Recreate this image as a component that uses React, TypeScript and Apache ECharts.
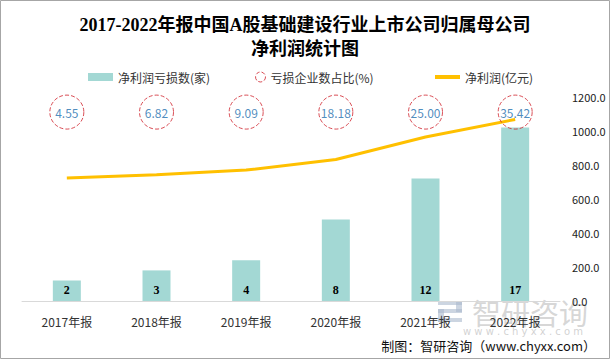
import React, { useEffect, useRef } from "react";
import * as echarts from "echarts";

const categories = ["2017年报", "2018年报", "2019年报", "2020年报", "2021年报", "2022年报"];
const lossCounts = [2, 3, 4, 8, 12, 17];
const lossShare = [4.55, 6.82, 9.09, 18.18, 25.0, 35.42];
const netProfit = [723, 743, 770, 832, 965, 1068];
const rightTicks = { min: 0, max: 1200, interval: 200 };

const CJK = "'Noto Sans CJK SC', 'Noto Sans', sans-serif";
const SERIF = "'Liberation Serif', 'Noto Sans CJK SC', serif";

export default function App() {
  const ref = useRef<HTMLDivElement>(null);
  useEffect(() => {
    if (!ref.current) return;
    const chart = echarts.init(ref.current, undefined, { renderer: "svg" });
    const shareRow = lossShare.map(() => 0.926);
    chart.setOption({
      animation: false,
      backgroundColor: "#ffffff",
      title: {
        text: "2017-2022年报中国A股基础建设行业上市公司归属母公司\n净利润统计图",
        left: "center",
        top: 8,
        textStyle: {
          fontFamily: SERIF,
          fontWeight: "bold",
          fontSize: 18,
          lineHeight: 24,
          color: "#000",
        },
      },
      legend: [
        {
          data: ["净利润亏损数(家)"],
          left: 83,
          top: 66,
          itemWidth: 25,
          itemHeight: 8,
          itemGap: 5,
          icon: "rect",
          textStyle: { fontFamily: CJK, fontSize: 12, color: "#333" },
        },
        {
          data: [
            {
              name: "亏损企业数占比(%)",
              icon: "circle",
              itemStyle: { color: "transparent", borderColor: "#d0202a", borderWidth: 1, borderType: "dashed" },
            },
          ],
          left: 250,
          top: 66,
          itemWidth: 10,
          itemHeight: 10,
          textStyle: { fontFamily: CJK, fontSize: 12, color: "#333" },
        },
        {
          data: [{ name: "净利润(亿元)", icon: "rect" }],
          left: 430,
          top: 66,
          itemWidth: 25,
          itemHeight: 4,
          textStyle: { fontFamily: CJK, fontSize: 12, color: "#333" },
        },
      ],
      grid: { left: 22, right: 50, top: 97, bottom: 58 },
      xAxis: {
        type: "category",
        data: categories,
        axisLine: { lineStyle: { color: "#d9d9d9" } },
        axisTick: { show: false },
        axisLabel: { fontFamily: CJK, fontSize: 12, color: "#333", margin: 14 },
      },
      yAxis: [
        { type: "value", min: 0, max: 20, show: false, splitLine: { show: false } },
        {
          type: "value",
          position: "right",
          min: rightTicks.min,
          max: rightTicks.max,
          interval: rightTicks.interval,
          axisLine: { show: false },
          axisTick: { show: false },
          splitLine: { show: false },
          axisLabel: {
            fontFamily: CJK,
            fontSize: 11,
            color: "#222",
            margin: 12,
            formatter: (v: number) => v.toFixed(1),
          },
        },
        { type: "value", min: 0, max: 1, show: false, splitLine: { show: false } },
      ],
      series: [
        {
          name: "净利润亏损数(家)",
          type: "bar",
          yAxisIndex: 0,
          data: lossCounts,
          barWidth: 28,
          itemStyle: { color: "#a3d8d4" },
          label: {
            show: true,
            position: "insideBottom",
            distance: 5,
            fontFamily: SERIF,
            fontWeight: "bold",
            fontSize: 12,
            color: "#000",
          },
        },
        {
          name: "亏损企业数占比(%)",
          type: "scatter",
          yAxisIndex: 2,
          data: shareRow,
          symbolSize: 34,
          itemStyle: { color: "transparent", borderColor: "#d0202a", borderWidth: 1, borderType: "dashed" },
          label: {
            show: true,
            position: "inside",
            fontFamily: CJK,
            fontSize: 12,
            color: "#1f6fae",
            formatter: (p: any) => lossShare[p.dataIndex].toFixed(2),
          },
          z: 5,
        },
        {
          name: "净利润(亿元)",
          type: "line",
          yAxisIndex: 1,
          data: netProfit,
          symbol: "none",
          lineStyle: { color: "#ffc000", width: 3 },
          itemStyle: { color: "#ffc000" },
          z: 4,
        },
      ],
      graphic: [
        {
          type: "rect",
          shape: { x: 0.5, y: 0.5, width: 609, height: 358 },
          style: { fill: "none", stroke: "#a6a6a6", lineWidth: 1 },
          silent: true,
        },
        {
          type: "group",
          silent: true,
          children: [
            { type: "rect", shape: { x: 438, y: 301, width: 24, height: 4 }, style: { fill: "rgba(170,185,205,0.6)" } },
            { type: "rect", shape: { x: 456, y: 301, width: 6, height: 11 }, style: { fill: "rgba(170,185,205,0.6)" } },
            { type: "rect", shape: { x: 438, y: 309, width: 24, height: 4 }, style: { fill: "rgba(170,185,205,0.6)" } },
            { type: "rect", shape: { x: 438, y: 309, width: 6, height: 13 }, style: { fill: "rgba(170,185,205,0.6)" } },
            { type: "rect", shape: { x: 438, y: 318, width: 24, height: 4 }, style: { fill: "rgba(170,185,205,0.6)" } },
            {
              type: "text",
              x: 472,
              y: 297,
              style: { text: "智研咨询", fontFamily: CJK, fontSize: 29, fill: "rgba(180,180,180,0.55)" },
            },
            {
              type: "text",
              x: 463,
              y: 326,
              style: { text: "w w w . c h y x x . c o m", fontFamily: "'DejaVu Sans', sans-serif", fontSize: 10, fill: "rgba(180,180,180,0.6)" },
            },
          ],
        },
        {
          type: "text",
          right: 14,
          top: 339,
          silent: true,
          style: { text: "制图：智研咨询（www.chyxx.com）", fontFamily: CJK, fontSize: 13, fill: "#111" },
        },
      ],
    });
    return () => chart.dispose();
  }, []);
  return <div ref={ref} style={{ position: "fixed", left: 0, top: 0, width: 610, height: 359 }} />;
}
